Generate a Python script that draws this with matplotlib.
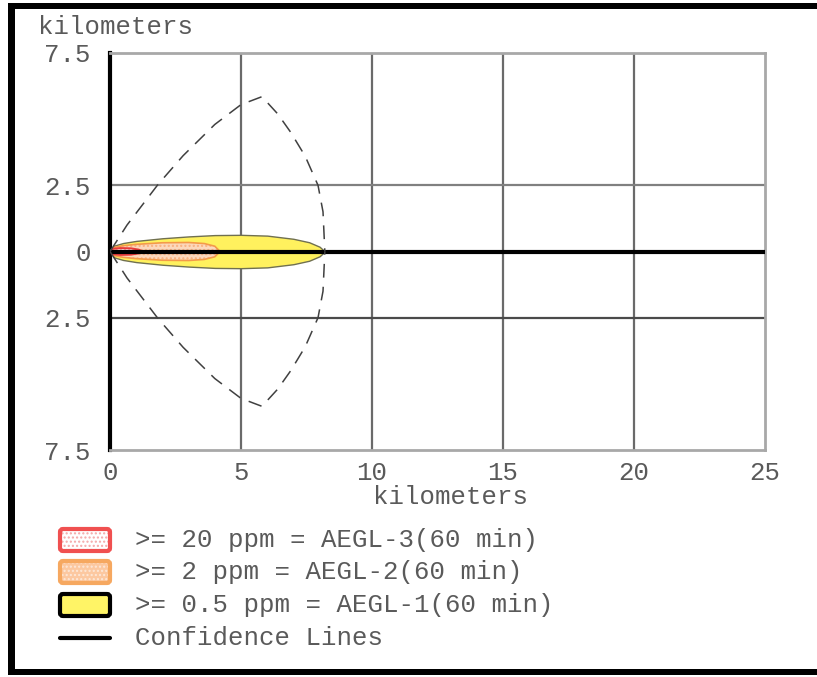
import matplotlib
matplotlib.use("Agg")
import matplotlib.pyplot as plt
from matplotlib.patches import FancyBboxPatch, Rectangle
import numpy as np

# ---- threat zone data (downwind distance km, half-width km) ----
aegl1_x = [0.0, 0.15, 0.5, 1.0, 2.0, 3.0, 4.0, 5.0, 6.0, 7.0, 7.6, 8.0, 8.2]
aegl1_hw = [0.0, 0.22, 0.32, 0.40, 0.50, 0.57, 0.62, 0.63, 0.60, 0.48, 0.35, 0.18, 0.0]

aegl2_x = [0.0, 0.15, 0.5, 1.0, 2.0, 3.0, 3.6, 4.0, 4.2]
aegl2_hw = [0.0, 0.15, 0.22, 0.27, 0.33, 0.34, 0.30, 0.20, 0.0]

aegl3_x = [0.0, 0.1, 0.4, 0.8, 1.1, 1.25]
aegl3_hw = [0.0, 0.10, 0.13, 0.12, 0.07, 0.0]

# upper confidence line (lower one is its mirror image)
conf_x = [0.0, 0.65, 1.83, 2.79, 4.0, 5.0, 5.8, 6.4, 6.9, 7.45, 7.94, 8.13, 8.2]
conf_y = [0.0, 1.0, 2.53, 3.62, 4.8, 5.55, 5.85, 5.2, 4.5, 3.6, 2.5, 1.5, 0.0]

x_ticks = [0, 5, 10, 15, 20, 25]
y_ticks = [-7.5, -2.5, 0, 2.5, 7.5]
y_tick_labels = ["7.5", "2.5", "0", "2.5", "7.5"]

legend_labels = [
    ">= 20 ppm = AEGL-3(60 min)",
    ">= 2 ppm = AEGL-2(60 min)",
    ">= 0.5 ppm = AEGL-1(60 min)",
    "Confidence Lines",
]

FONT = "Liberation Mono"
TXT = "#5a5a5a"
FS = 18.5

W, H = 817, 677
fig = plt.figure(figsize=(W / 100, H / 100), dpi=100)
fig.patch.set_facecolor("white")

# ---- main map axes ----
ax = fig.add_axes([110 / W, 1 - 450 / H, (765 - 110) / W, (450 - 53) / H], zorder=2)
ax.set_xlim(0, 25)
ax.set_ylim(-7.5, 7.5)
ax.set_facecolor("white")

for v in [5, 10, 15, 20]:
    ax.axvline(v, color="#6a6a6a", lw=1.6, zorder=1)
ax.axhline(2.5, color="#808080", lw=1.6, zorder=1)
ax.axhline(-2.5, color="#4a4a4a", lw=1.6, zorder=1)

for s in ["top", "right", "bottom"]:
    ax.spines[s].set_color("#a8a8a8")
    ax.spines[s].set_linewidth(2)
ax.spines["left"].set_color("black")
ax.spines["left"].set_linewidth(3)

ax.set_xticks(x_ticks)
ax.set_xticklabels([str(t) for t in x_ticks])
ax.set_yticks(y_ticks)
ax.set_yticklabels(y_tick_labels)
ax.tick_params(length=0, labelsize=FS, labelcolor=TXT)
ax.tick_params(axis="x", pad=8)
ax.tick_params(axis="y", pad=14)
for lab in ax.get_xticklabels() + ax.get_yticklabels():
    lab.set_fontfamily(FONT)
ax.set_xlabel("kilometers", fontsize=FS, color=TXT, fontfamily=FONT,
              va="center")
ax.xaxis.set_label_coords(0.52, -0.118)

a1x = np.array(aegl1_x); a1w = np.array(aegl1_hw)
a2x = np.array(aegl2_x); a2w = np.array(aegl2_hw)
a3x = np.array(aegl3_x); a3w = np.array(aegl3_hw)

# AEGL-1 (yellow)
ax.fill_between(a1x, -a1w, a1w, facecolor="#fff15e", edgecolor="#707050", lw=1.0, zorder=3)
# AEGL-2 (orange, dotted texture)
ax.fill_between(a2x, -a2w, a2w, facecolor="#fcd8bc", edgecolor="#f8b080", hatch="....", lw=0, zorder=4)
ax.fill_between(a2x, -a2w, a2w, facecolor="none", edgecolor="#f49a4a", lw=1.2, zorder=4)
# AEGL-3 (red, dotted texture)
ax.fill_between(a3x, -a3w, a3w, facecolor="#fde4e0", edgecolor="#f4a0a0", hatch="....", lw=0, zorder=5)
ax.fill_between(a3x, -a3w, a3w, facecolor="none", edgecolor="#e83a3a", lw=1.4, zorder=5)

# downwind centerline
ax.plot([0, 25], [0, 0], color="black", lw=3, zorder=6, solid_capstyle="butt")

# confidence lines
cx = np.array(conf_x); cy = np.array(conf_y)
ax.plot(cx, cy, color="#404040", lw=1.1, ls=(0, (9, 6)), zorder=6)
ax.plot(cx, -cy, color="#404040", lw=1.1, ls=(0, (9, 6)), zorder=6)

# ---- page overlay in pixel coordinates: frame, y-axis caption, legend ----
ov = fig.add_axes([0, 0, 1, 1], zorder=1)
ov.set_xlim(0, W)
ov.set_ylim(H, 0)
ov.axis("off")

ov.add_patch(Rectangle((8, 3), W - 8, 6, color="black", lw=0))
ov.add_patch(Rectangle((8, 3), 7, 672, color="black", lw=0))
ov.add_patch(Rectangle((8, 669), W - 8, 6, color="black", lw=0))

ov.text(38, 27, "kilometers", fontsize=FS, color=TXT, fontfamily=FONT,
        ha="left", va="center")

rows = [540, 572, 605, 638]
box_l, box_w, box_h = 60, 50, 22

# AEGL-3 swatch
ov.add_patch(FancyBboxPatch((box_l, rows[0] - box_h / 2), box_w, box_h,
                            boxstyle="round,pad=0,rounding_size=3",
                            facecolor="white", edgecolor="#f4a8a8", hatch="....", lw=0))
ov.add_patch(FancyBboxPatch((box_l, rows[0] - box_h / 2), box_w, box_h,
                            boxstyle="round,pad=0,rounding_size=3",
                            facecolor="none", edgecolor="#f05050", lw=3))
# AEGL-2 swatch
ov.add_patch(FancyBboxPatch((box_l, rows[1] - box_h / 2), box_w, box_h,
                            boxstyle="round,pad=0,rounding_size=3",
                            facecolor="#fcc8a0", edgecolor="#fde8d8", hatch="....", lw=0))
ov.add_patch(FancyBboxPatch((box_l, rows[1] - box_h / 2), box_w, box_h,
                            boxstyle="round,pad=0,rounding_size=3",
                            facecolor="none", edgecolor="#f6a860", lw=3))
# AEGL-1 swatch
ov.add_patch(FancyBboxPatch((box_l, rows[2] - box_h / 2), box_w, box_h,
                            boxstyle="round,pad=0,rounding_size=3",
                            facecolor="#fff466", edgecolor="black", lw=3))
# confidence line swatch
ov.plot([60, 110], [rows[3], rows[3]], color="black", lw=3, solid_capstyle="round")

for y, lab in zip(rows, legend_labels):
    ov.text(135, y, lab, fontsize=FS, color=TXT, fontfamily=FONT,
            ha="left", va="center")

fig.savefig("out.png", dpi=100)
